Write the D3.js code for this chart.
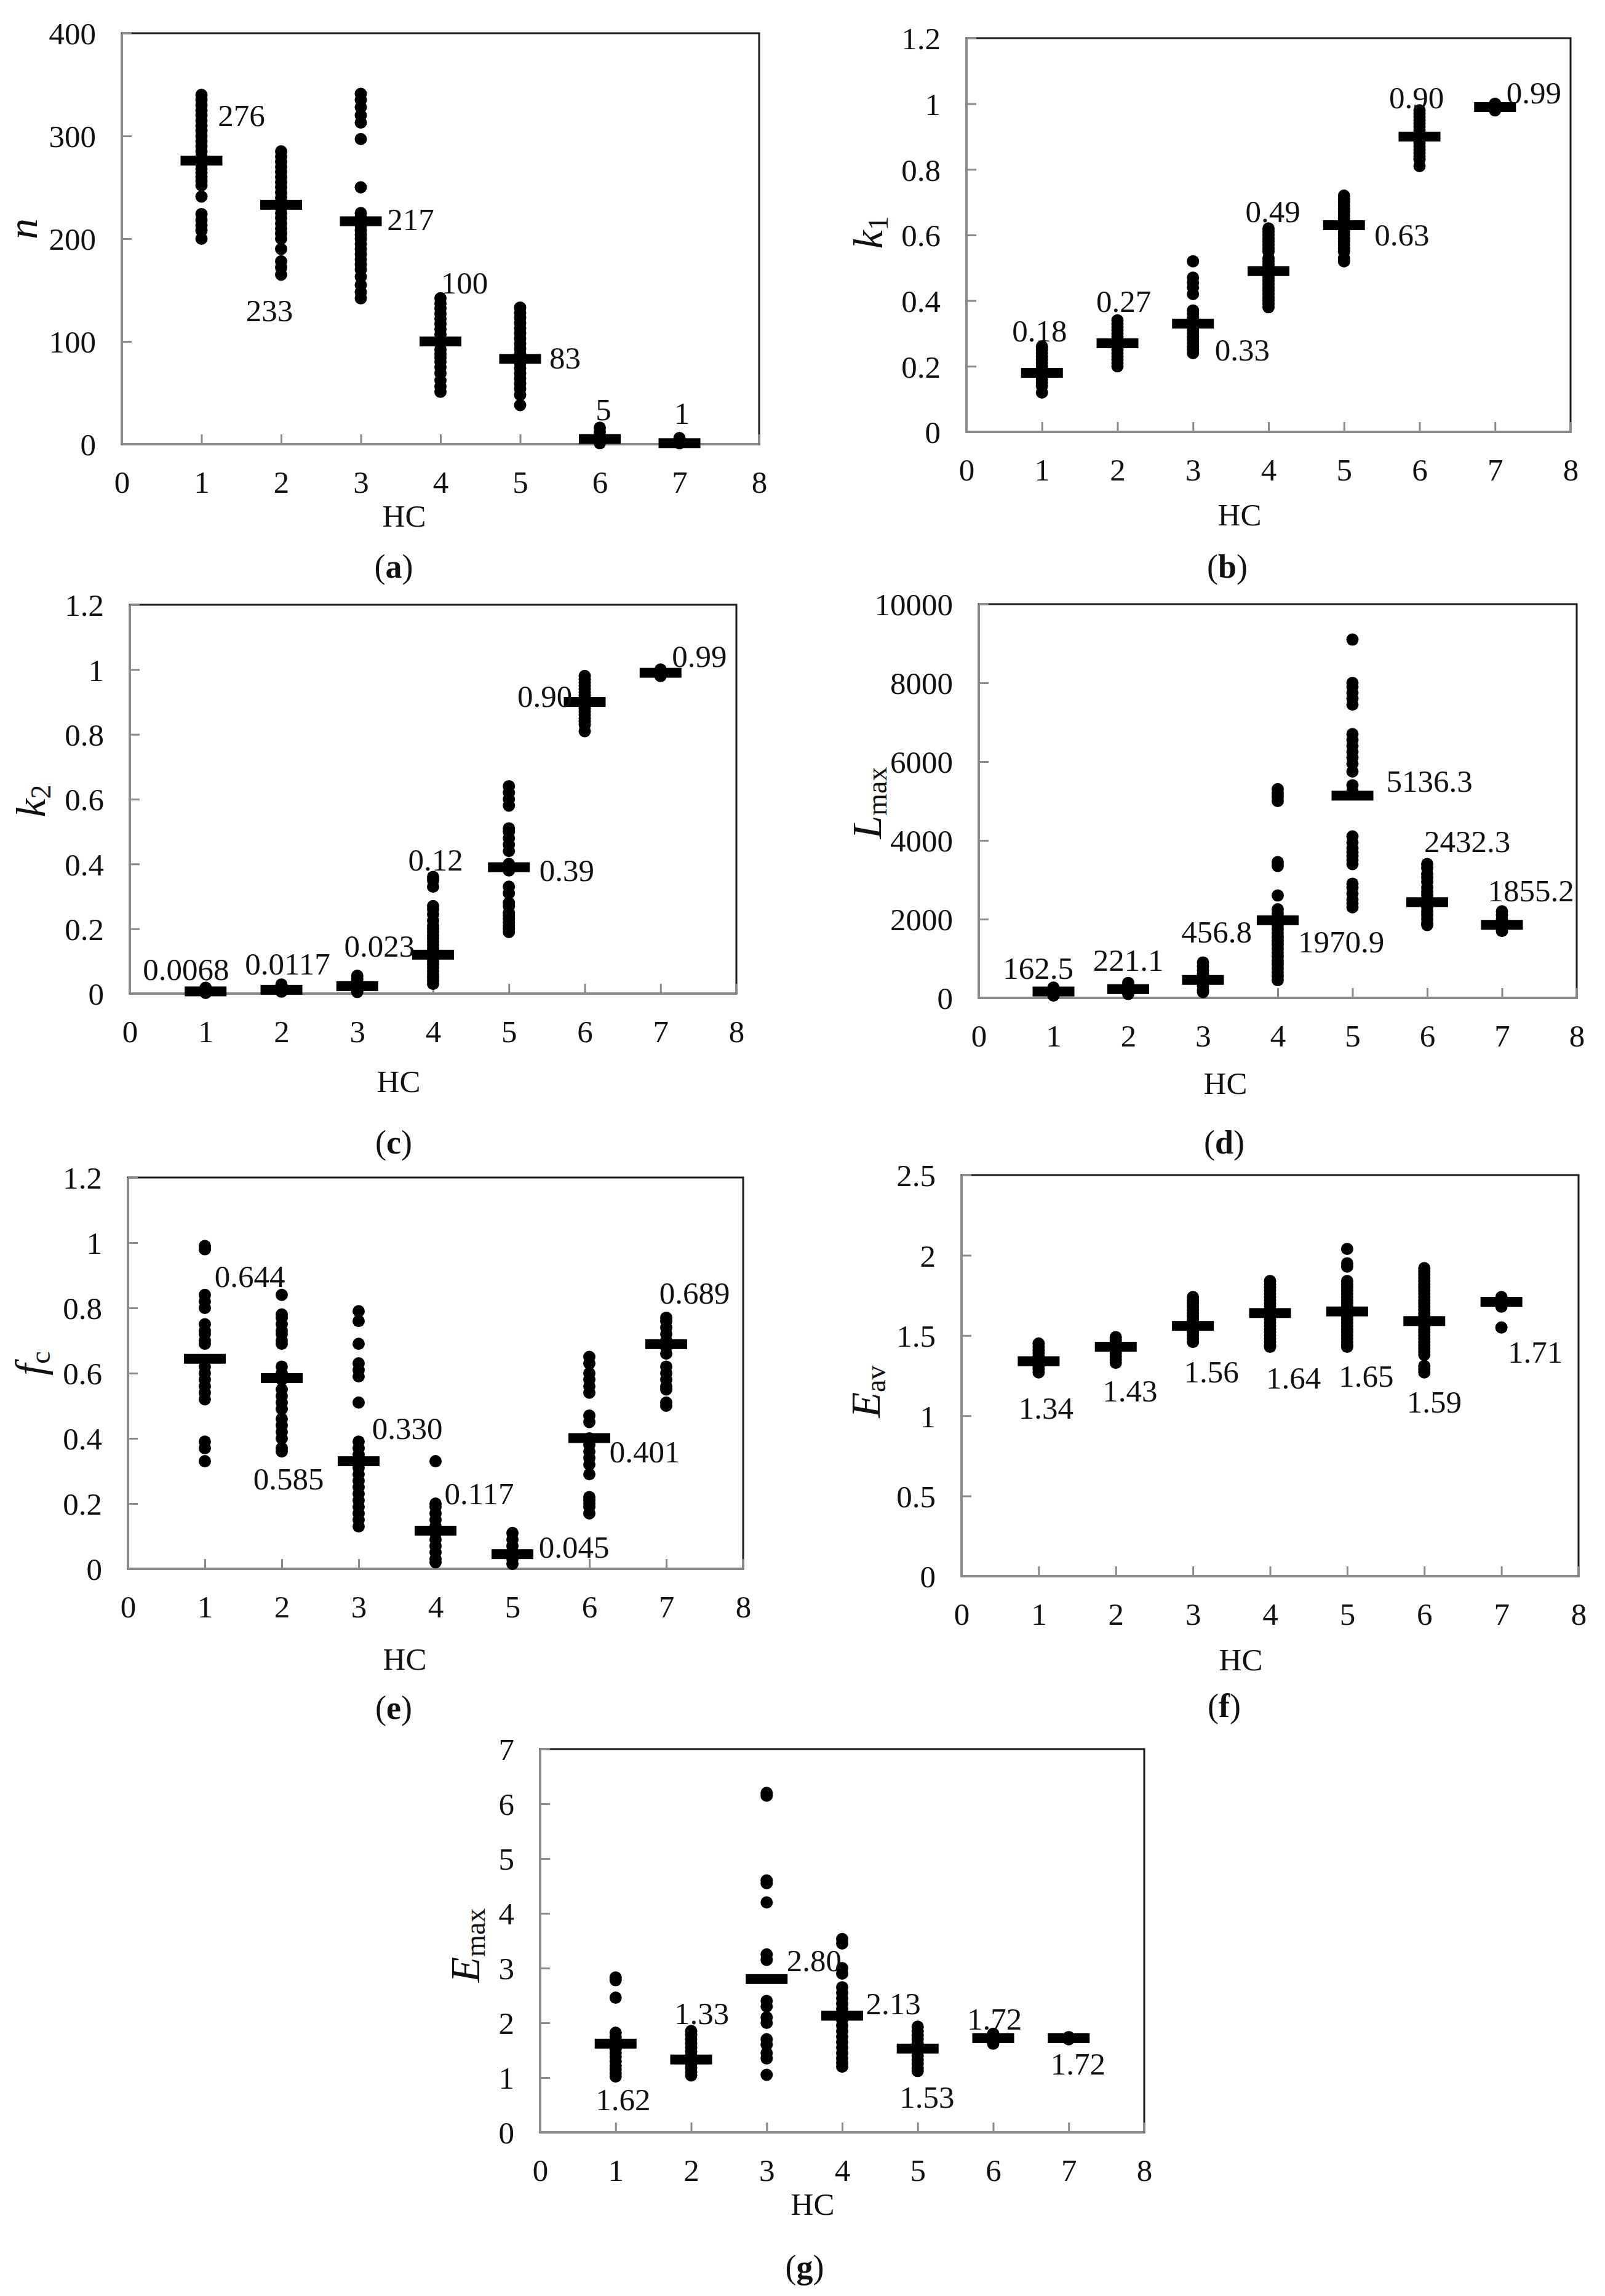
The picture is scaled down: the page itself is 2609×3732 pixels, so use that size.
<!DOCTYPE html>
<html>
<head>
<meta charset="utf-8">
<script src="https://cdn.jsdelivr.net/npm/d3@7"></script>
<style>
  body { margin: 0; background: #fff; }
  svg text { font-family: "Liberation Serif", "Times New Roman", serif; fill: #111; }
</style>
</head>
<body>
<div id="chart"></div>
<script>
// HC classes and x ticks shared by all panels
var hc = [1, 2, 3, 4, 5, 6, 7];
var xTicks = [0, 1, 2, 3, 4, 5, 6, 7, 8];

// (a) n
var nMeans = [276, 233, 217, 100, 83, 5, 1];
var nLabels = ["276", "233", "217", "100", "83", "5", "1"];
var nTicks = [0, 100, 200, 300, 400];
var nPoints = [
  [340, 335, 330, 325, 320, 315, 310, 305, 300, 295, 290, 285, 280, 272, 268, 264, 260, 256, 252, 241, 224, 218, 213, 208, 200],
  [285, 280, 275, 270, 265, 260, 255, 250, 245, 240, 236, 230, 225, 220, 215, 210, 205, 200, 190, 178, 172, 165],
  [341, 335, 328, 320, 313, 297, 250, 225, 221, 213, 208, 204, 200, 195, 190, 185, 180, 175, 170, 163, 155, 148, 142],
  [142, 137, 132, 127, 122, 117, 112, 107, 103, 97, 92, 88, 84, 80, 75, 69, 62, 56, 51],
  [133, 128, 123, 118, 113, 108, 103, 98, 93, 88, 84, 79, 74, 69, 64, 59, 54, 48, 38],
  [16, 12, 8, 5, 3, 1],
  [6, 3, 1]
];

// (b) k1
var k1Means = [0.18, 0.27, 0.33, 0.49, 0.63, 0.90, 0.99];
var k1Labels = ["0.18", "0.27", "0.33", "0.49", "0.63", "0.90", "0.99"];
var k1Ticks = [0, 0.2, 0.4, 0.6, 0.8, 1, 1.2];
var k1Points = [
  [0.26, 0.25, 0.24, 0.23, 0.22, 0.21, 0.2, 0.19, 0.18, 0.17, 0.16, 0.15, 0.14, 0.12],
  [0.34, 0.33, 0.32, 0.31, 0.3, 0.29, 0.28, 0.27, 0.26, 0.25, 0.24, 0.23, 0.22, 0.21, 0.2],
  [0.52, 0.47, 0.455, 0.44, 0.42, 0.37, 0.36, 0.35, 0.34, 0.33, 0.32, 0.31, 0.3, 0.29, 0.28, 0.27, 0.26, 0.25, 0.24],
  [0.62, 0.61, 0.6, 0.59, 0.58, 0.57, 0.56, 0.55, 0.53, 0.52, 0.51, 0.5, 0.49, 0.48, 0.47, 0.46, 0.45, 0.44, 0.43, 0.42, 0.41, 0.4, 0.39, 0.38],
  [0.72, 0.71, 0.7, 0.69, 0.68, 0.67, 0.66, 0.65, 0.64, 0.63, 0.62, 0.61, 0.6, 0.59, 0.58, 0.57, 0.56, 0.55, 0.53, 0.52],
  [0.98, 0.97, 0.96, 0.95, 0.94, 0.93, 0.92, 0.91, 0.9, 0.89, 0.88, 0.87, 0.86, 0.85, 0.84, 0.83, 0.81],
  [1.0, 0.99, 0.98]
];

// (c) k2
var k2Means = [0.0068, 0.0117, 0.023, 0.12, 0.39, 0.90, 0.99];
var k2Labels = ["0.0068", "0.0117", "0.023", "0.12", "0.39", "0.90", "0.99"];
var k2Ticks = [0, 0.2, 0.4, 0.6, 0.8, 1, 1.2];
var k2Points = [
  [0.018, 0.014, 0.01, 0.006, 0.002],
  [0.028, 0.02, 0.012, 0.006],
  [0.055, 0.045, 0.035, 0.028, 0.02, 0.012, 0.005],
  [0.36, 0.35, 0.33, 0.27, 0.26, 0.245, 0.225, 0.21, 0.2, 0.19, 0.18, 0.17, 0.16, 0.15, 0.14, 0.13, 0.12, 0.11, 0.1, 0.09, 0.08, 0.07, 0.06, 0.05, 0.04, 0.03],
  [0.64, 0.62, 0.6, 0.58, 0.51, 0.5, 0.48, 0.46, 0.44, 0.4, 0.38, 0.33, 0.31, 0.28, 0.27, 0.25, 0.24, 0.23, 0.22, 0.21, 0.2, 0.19],
  [0.98, 0.97, 0.96, 0.95, 0.94, 0.93, 0.92, 0.91, 0.9, 0.89, 0.88, 0.87, 0.86, 0.85, 0.84, 0.83, 0.81],
  [1.0, 0.99, 0.98]
];

// (d) Lmax
var lmaxMeans = [162.5, 221.1, 456.8, 1970.9, 5136.3, 2432.3, 1855.2];
var lmaxLabels = ["162.5", "221.1", "456.8", "1970.9", "5136.3", "2432.3", "1855.2"];
var lmaxTicks = [0, 2000, 4000, 6000, 8000, 10000];
var lmaxPoints = [
  [260, 200, 150, 100, 60],
  [380, 300, 250, 200, 150, 100],
  [900, 800, 700, 600, 500, 400, 300, 200, 150],
  [5300, 5200, 5100, 5000, 3450, 3350, 2600, 2250, 2150, 2050, 1950, 1850, 1750, 1650, 1550, 1450, 1350, 1250, 1150, 1050, 950, 850, 750, 650, 550, 450],
  [9100, 8000, 7900, 7750, 7600, 7450, 6700, 6550, 6400, 6250, 6100, 5950, 5750, 5400, 5250, 4100, 3950, 3800, 3700, 3600, 3500, 3400, 2900, 2800, 2650, 2500, 2400, 2300],
  [3400, 3300, 3150, 3050, 2950, 2800, 2700, 2600, 2500, 2400, 2300, 2200, 2100, 2000, 1900, 1850],
  [2200, 2100, 2000, 1900, 1800, 1700]
];

// (e) fc
var fcMeans = [0.644, 0.585, 0.330, 0.117, 0.045, 0.401, 0.689];
var fcLabels = ["0.644", "0.585", "0.330", "0.117", "0.045", "0.401", "0.689"];
var fcTicks = [0, 0.2, 0.4, 0.6, 0.8, 1, 1.2];
var fcPoints = [
  [0.99, 0.98, 0.84, 0.82, 0.8, 0.75, 0.73, 0.72, 0.7, 0.69, 0.62, 0.6, 0.58, 0.56, 0.54, 0.52, 0.39, 0.37, 0.33],
  [0.84, 0.78, 0.77, 0.75, 0.73, 0.72, 0.7, 0.69, 0.62, 0.6, 0.58, 0.55, 0.53, 0.51, 0.49, 0.46, 0.44, 0.42, 0.4, 0.37, 0.36],
  [0.79, 0.76, 0.69, 0.63, 0.61, 0.59, 0.51, 0.39, 0.37, 0.35, 0.33, 0.31, 0.29, 0.27, 0.25, 0.23, 0.21, 0.19, 0.17, 0.15, 0.13],
  [0.33, 0.2, 0.19, 0.17, 0.15, 0.13, 0.11, 0.09, 0.07, 0.05, 0.03, 0.02],
  [0.11, 0.09, 0.07, 0.05, 0.03, 0.015],
  [0.65, 0.63, 0.6, 0.58, 0.56, 0.54, 0.47, 0.45, 0.4, 0.38, 0.36, 0.34, 0.32, 0.29, 0.22, 0.21, 0.2, 0.19, 0.17],
  [0.77, 0.76, 0.74, 0.72, 0.7, 0.68, 0.66, 0.62, 0.6, 0.58, 0.56, 0.55, 0.51, 0.5]
];

// (f) Eav
var eavMeans = [1.34, 1.43, 1.56, 1.64, 1.65, 1.59, 1.71];
var eavLabels = ["1.34", "1.43", "1.56", "1.64", "1.65", "1.59", "1.71"];
var eavTicks = [0, 0.5, 1, 1.5, 2, 2.5];
var eavPoints = [
  [1.45, 1.43, 1.41, 1.39, 1.37, 1.35, 1.33, 1.31, 1.29, 1.27],
  [1.49, 1.47, 1.45, 1.43, 1.41, 1.39, 1.37, 1.35, 1.33],
  [1.74, 1.72, 1.7, 1.68, 1.66, 1.64, 1.62, 1.6, 1.58, 1.56, 1.54, 1.52, 1.5, 1.48, 1.46],
  [1.84, 1.82, 1.8, 1.78, 1.76, 1.74, 1.72, 1.7, 1.68, 1.66, 1.64, 1.62, 1.6, 1.58, 1.56, 1.54, 1.52, 1.5, 1.48, 1.46, 1.44, 1.43],
  [2.04, 1.95, 1.93, 1.84, 1.82, 1.8, 1.78, 1.76, 1.74, 1.72, 1.7, 1.68, 1.66, 1.64, 1.62, 1.6, 1.58, 1.56, 1.54, 1.52, 1.5, 1.48, 1.46, 1.44, 1.43],
  [1.92, 1.9, 1.88, 1.86, 1.84, 1.82, 1.8, 1.78, 1.76, 1.74, 1.72, 1.7, 1.68, 1.66, 1.64, 1.62, 1.6, 1.58, 1.56, 1.54, 1.52, 1.5, 1.48, 1.46, 1.44, 1.42, 1.4, 1.38, 1.31, 1.29, 1.27],
  [1.74, 1.72, 1.7, 1.68, 1.55]
];

// (g) Emax
var emaxMeans = [1.62, 1.33, 2.80, 2.13, 1.53, 1.72, 1.72];
var emaxLabels = ["1.62", "1.33", "2.80", "2.13", "1.53", "1.72", "1.72"];
var emaxTicks = [0, 1, 2, 3, 4, 5, 6, 7];
var emaxPoints = [
  [2.83, 2.78, 2.46, 1.82, 1.75, 1.68, 1.6, 1.52, 1.45, 1.38, 1.3, 1.22, 1.15, 1.08, 1.02],
  [1.85, 1.78, 1.7, 1.62, 1.55, 1.48, 1.4, 1.32, 1.25, 1.18, 1.1, 1.04],
  [6.2, 6.15, 4.6, 4.55, 4.2, 3.25, 3.15, 2.4, 2.3, 2.1, 2.0, 1.7, 1.6, 1.45, 1.35, 1.05],
  [3.53, 3.45, 3.0, 2.9, 2.65, 2.55, 2.45, 2.35, 2.25, 2.15, 2.05, 1.95, 1.85, 1.75, 1.65, 1.55, 1.45, 1.35, 1.27, 1.2],
  [1.93, 1.85, 1.77, 1.7, 1.62, 1.55, 1.47, 1.4, 1.32, 1.25, 1.17, 1.12],
  [1.8, 1.75, 1.7, 1.65, 1.62],
  [1.74, 1.7]
];

// panel table built from the arrays above + layout (frame = left, top, right, bottom)
var panels = [
  { cap: "a", sym: "n", sub: "", means: nMeans, labels: nLabels, ticks: nTicks, points: nPoints,
    frame: [198, 54, 1234, 722], yLab: [60, 372], hcPos: [657, 838], capPos: [640, 920],
    off: [[65, -74], [-19, 171], [81, -3], [39, -96], [73, -2], [6, -49], [4, -49]] },
  { cap: "b", sym: "k", sub: "1", means: k1Means, labels: k1Labels, ticks: k1Ticks, points: k1Points,
    frame: [1571, 62, 2553, 702], yLab: [1434, 378], hcPos: [2015, 836], capPos: [1995, 920],
    off: [[-4, -69], [10, -69], [80, 42], [7, -98], [94, 15], [-5, -64], [63, -24]] },
  { cap: "c", sym: "k", sub: "2", means: k2Means, labels: k2Labels, ticks: k2Ticks, points: k2Points,
    frame: [211, 983, 1197, 1615], yLab: [73, 1302], hcPos: [648, 1757], capPos: [640, 1856],
    off: [[-32, -36], [10, -43], [36, -66], [4, -155], [94, 5], [-65, -10], [63, -27]] },
  { cap: "d", sym: "L", sub: "max", means: lmaxMeans, labels: lmaxLabels, ticks: lmaxTicks, points: lmaxPoints,
    frame: [1591, 982, 2563, 1622], yLab: [1432, 1305], hcPos: [1992, 1760], capPos: [1990, 1856],
    off: [[-25, -38], [0, -48], [22, -79], [103, 34], [125, -24], [65, -99], [47, -56]] },
  { cap: "e", sym: "f", sub: "c", means: fcMeans, labels: fcLabels, ticks: fcTicks, points: fcPoints,
    frame: [208, 1914, 1208, 2550], yLab: [72, 2216], hcPos: [658, 2696], capPos: [640, 2775],
    off: [[73, -135], [11, 163], [79, -54], [71, -61], [100, -12], [90, 22], [46, -84]] },
  { cap: "f", sym: "E", sub: "av", means: eavMeans, labels: eavLabels, ticks: eavTicks, points: eavPoints,
    frame: [1563, 1910, 2566, 2562], yLab: [1430, 2262], hcPos: [2017, 2697], capPos: [1990, 2772],
    off: [[12, 76], [23, 71], [30, 74], [38, 105], [31, 104], [16, 131], [55, 81]] },
  { cap: "g", sym: "E", sub: "max", means: emaxMeans, labels: emaxLabels, ticks: emaxTicks, points: emaxPoints,
    frame: [878, 2843, 1860, 3466], yLab: [779, 3162], hcPos: [1321, 3582], capPos: [1308, 3684],
    off: [[12, 90], [17, -75], [77, -31], [83, -20], [15, 78], [2, -32], [15, 41]] }
];

var svg = d3.select("#chart").append("svg")
  .attr("width", 2609)
  .attr("height", 3732)
  .style("background", "#fff");

var fontSize = 51;

function drawPanel(p) {
  var yMax = p.ticks[p.ticks.length - 1];
  var x = d3.scaleLinear().domain([0, 8]).range([p.frame[0], p.frame[2]]);
  var y = d3.scaleLinear().domain([0, yMax]).range([p.frame[3], p.frame[1]]);
  var g = svg.append("g").attr("class", "panel-" + p.cap);

  // plot area border
  g.append("rect")
    .attr("x", x(0)).attr("y", y(yMax))
    .attr("width", x(8) - x(0)).attr("height", y(0) - y(yMax))
    .attr("fill", "none").attr("stroke", "#1a1a1a").attr("stroke-width", 3);

  // axes, ticks pointing inside
  var xAxis = d3.axisBottom(x).tickValues(xTicks).tickSizeInner(-16).tickSizeOuter(0).tickFormat(d3.format("d"));
  var gx = g.append("g").attr("transform", "translate(0," + y(0) + ")").call(xAxis);
  var yAxis = d3.axisLeft(y).tickValues(p.ticks).tickSizeInner(-16).tickSizeOuter(0).tickFormat(function (d) { return String(d); });
  var gy = g.append("g").attr("transform", "translate(" + x(0) + ",0)").call(yAxis);

  [gx, gy].forEach(function (ax) {
    ax.attr("font-family", null).attr("font-size", null);
    ax.select(".domain").attr("stroke", "#8a8a8a").attr("stroke-width", 3);
    ax.selectAll(".tick line").attr("stroke", "#8a8a8a").attr("stroke-width", 3);
    ax.selectAll(".tick text").style("font-size", fontSize + "px").attr("fill", "#111");
  });
  gx.selectAll(".tick text").attr("y", 61).attr("dy", "0.35em");
  gy.selectAll(".tick text").attr("x", -42).attr("dy", "0.35em");

  // individual values
  var pts = [];
  p.points.forEach(function (arr, i) {
    arr.forEach(function (v) { pts.push([hc[i], v]); });
  });
  g.selectAll("circle.pt")
    .data(pts)
    .enter()
    .append("circle")
    .attr("class", "pt")
    .attr("cx", function (d) { return x(d[0]); })
    .attr("cy", function (d) { return y(d[1]); })
    .attr("r", 10)
    .attr("fill", "#000");

  // mean markers (thick dash)
  g.selectAll("rect.mean")
    .data(p.means)
    .enter()
    .append("rect")
    .attr("class", "mean")
    .attr("x", function (d, i) { return x(hc[i]) - 34; })
    .attr("y", function (d) { return y(d) - 8; })
    .attr("width", 68)
    .attr("height", 16)
    .attr("fill", "#000");

  // mean value labels
  g.selectAll("text.val")
    .data(p.means)
    .enter()
    .append("text")
    .attr("class", "val")
    .attr("x", function (d, i) { return x(hc[i]) + p.off[i][0]; })
    .attr("y", function (d, i) { return y(d) + p.off[i][1]; })
    .attr("text-anchor", "middle")
    .attr("dy", "0.35em")
    .style("font-size", fontSize + "px")
    .text(function (d, i) { return p.labels[i]; });

  // y axis title (rotated)
  var yt = g.append("text")
    .attr("transform", "translate(" + p.yLab[0] + "," + p.yLab[1] + ")rotate(-90)")
    .attr("text-anchor", "middle");
  yt.append("tspan").style("font-style", "italic").style("font-size", "68px").text(p.sym);
  if (p.sub) {
    yt.append("tspan").style("font-size", "46px").attr("dy", "0.2em").text(p.sub);
  }

  // x axis title
  g.append("text")
    .attr("x", p.hcPos[0]).attr("y", p.hcPos[1])
    .attr("text-anchor", "middle").attr("dy", "0.35em")
    .style("font-size", fontSize + "px")
    .text("HC");

  // panel caption
  var cap = g.append("text")
    .attr("x", p.capPos[0]).attr("y", p.capPos[1])
    .attr("text-anchor", "middle").attr("dy", "0.35em")
    .style("font-size", "54px");
  cap.append("tspan").text("(");
  cap.append("tspan").style("font-weight", "bold").text(p.cap);
  cap.append("tspan").text(")");
}

panels.forEach(drawPanel);
</script>
</body>
</html>
